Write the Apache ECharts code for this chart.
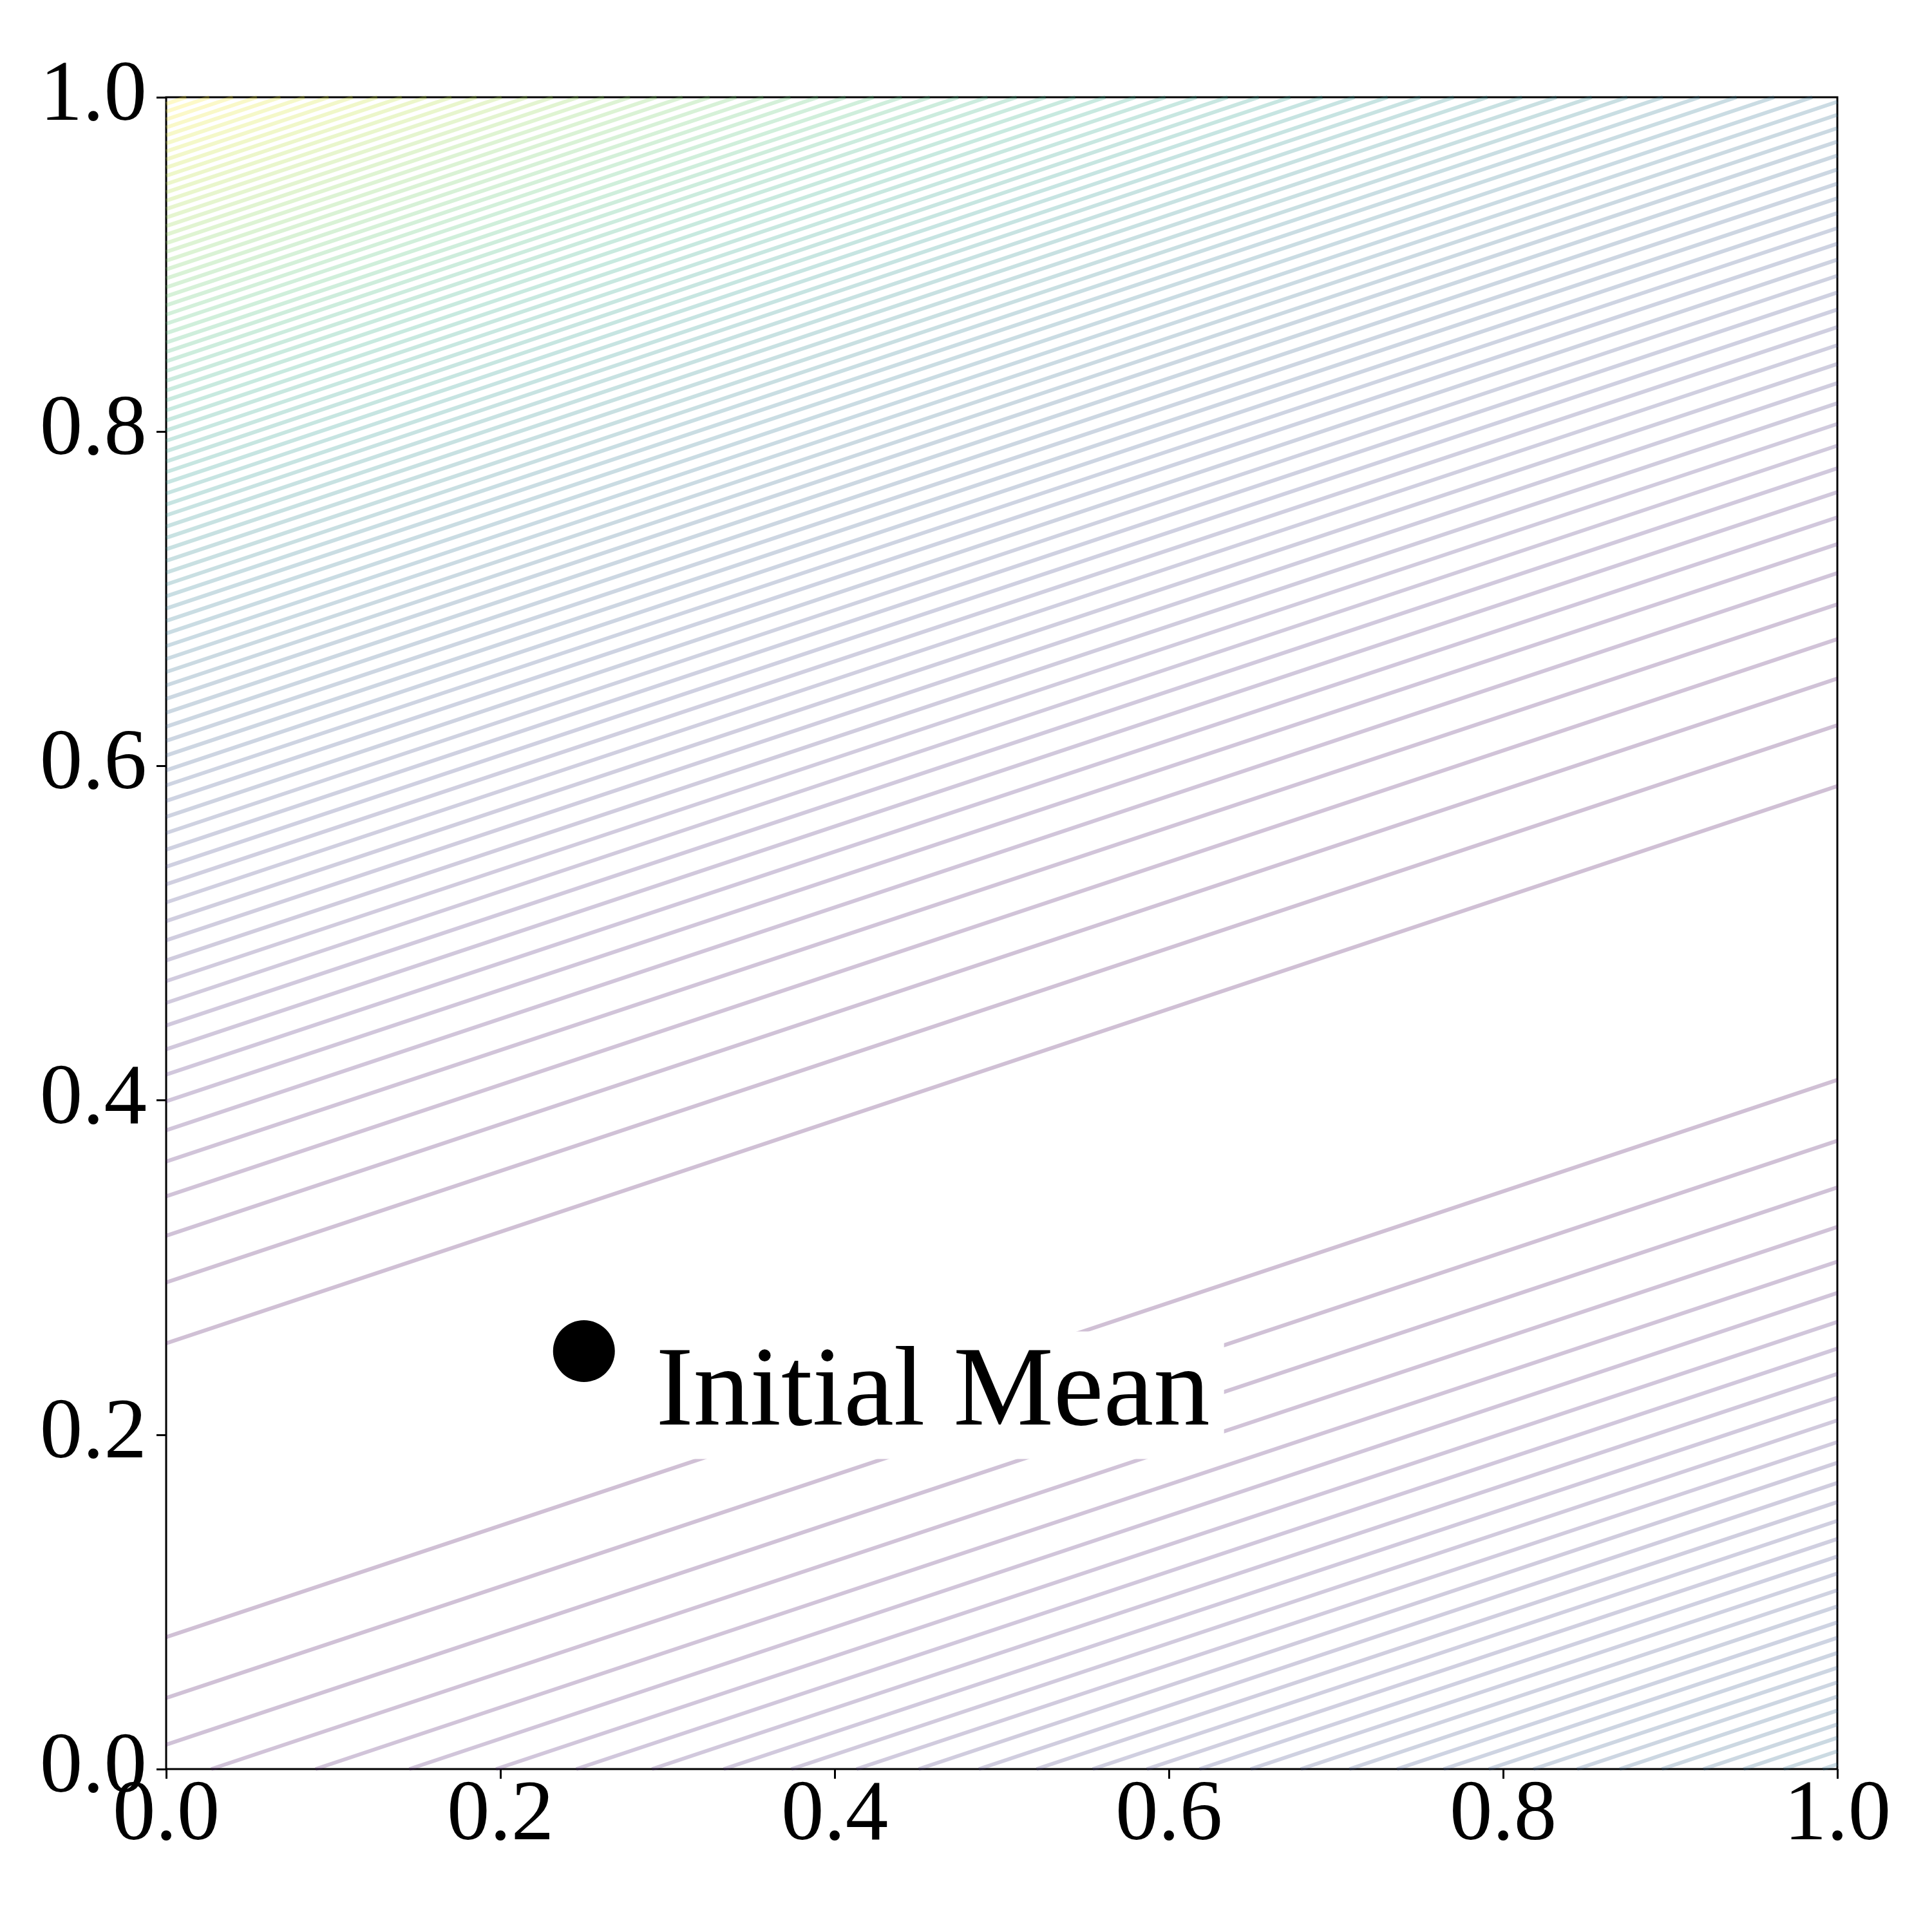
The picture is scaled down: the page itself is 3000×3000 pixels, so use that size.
<!DOCTYPE html>
<html>
<head>
<meta charset="utf-8">
<title>Initial Mean contour</title>
<script src="https://cdn.jsdelivr.net/npm/echarts@6/dist/echarts.min.js"></script>
<style>
  html, body { margin: 0; padding: 0; background: #fff; }
  #chart { width: 3000px; height: 3000px; }
</style>
</head>
<body>
<div id="chart"></div>
<script>
// contour lines above the valley, y where each line meets x = 0 (level 1, 2, 3 ...)
const upperIntercepts = [
  0.2547, 0.2911, 0.3190, 0.3426, 0.3634, 0.3821, 0.3994, 0.4154, 0.4305, 0.4448,
  0.4583, 0.4713, 0.4837, 0.4957, 0.5072, 0.5184, 0.5292, 0.5397, 0.5499, 0.5599,
  0.5696, 0.5791, 0.5884, 0.5974, 0.6063, 0.6150, 0.6235, 0.6319, 0.6402, 0.6482,
  0.6562, 0.6640, 0.6717, 0.6793, 0.6868, 0.6942, 0.7015, 0.7086, 0.7157, 0.7227,
  0.7296, 0.7365, 0.7432, 0.7499, 0.7564, 0.7630, 0.7694, 0.7758, 0.7821, 0.7883,
  0.7945, 0.8007, 0.8067, 0.8127, 0.8187, 0.8246, 0.8304, 0.8362, 0.8420, 0.8477,
  0.8533, 0.8589, 0.8645, 0.8700, 0.8755, 0.8809, 0.8863, 0.8916, 0.8970, 0.9022,
  0.9075, 0.9127, 0.9178, 0.9229, 0.9280, 0.9331, 0.9381, 0.9431, 0.9481, 0.9530,
  0.9579, 0.9628, 0.9676, 0.9724, 0.9772, 0.9819, 0.9867, 0.9914, 0.9960
]
// contour lines below the valley (same levels, other side)
const lowerIntercepts = [
  0.0789, 0.0425, 0.0146, -0.0090, -0.0298, -0.0485, -0.0658, -0.0818, -0.0969, -0.1112,
  -0.1247, -0.1377, -0.1501, -0.1621, -0.1736, -0.1848, -0.1956, -0.2061, -0.2163, -0.2263,
  -0.2360, -0.2455, -0.2548, -0.2638, -0.2727, -0.2814, -0.2899, -0.2983, -0.3066, -0.3146,
  -0.3226, -0.3304
]
const contourSlope = 0.3333
const topLevel = 89

const initialMean = [0.25, 0.25]
const meanLabel = 'Initial Mean'

const axisTicks = [0, 0.2, 0.4, 0.6, 0.8, 1.0]

// viridis
const viridis = ['#440154', '#482475', '#414487', '#355f8d', '#2a788e', '#21918c',
  '#22a884', '#44bf70', '#7ad151', '#bddf26', '#fde725']

function hexRgb(h) {
  return [parseInt(h.substr(1, 2), 16), parseInt(h.substr(3, 2), 16), parseInt(h.substr(5, 2), 16)]
}
function cmap(t) {
  t = Math.max(0, Math.min(1, t))
  const p = t * (viridis.length - 1)
  const i = Math.min(Math.floor(p), viridis.length - 2)
  const f = p - i
  const a = hexRgb(viridis[i])
  const b = hexRgb(viridis[i + 1])
  const c = a.map((v, k) => Math.round(v + (b[k] - v) * f))
  return 'rgb(' + c.join(',') + ')'
}

// clip y = c + s*x to the unit square
function segment(c) {
  const s = contourSlope
  const x0 = Math.max(0, -c / s)
  const x1 = Math.min(1, (1 - c) / s)
  return [[x0, c + s * x0], [x1, c + s * x1]]
}

const contourData = []
upperIntercepts.forEach((c, i) => {
  contourData.push({ coords: segment(c), lineStyle: { color: cmap((i + 1) / topLevel) } })
})
lowerIntercepts.forEach((c, i) => {
  contourData.push({ coords: segment(c), lineStyle: { color: cmap((i + 1) / topLevel) } })
})

const font = 'Liberation Serif, Times New Roman, serif'

const chart = echarts.init(document.getElementById('chart'))
chart.setOption({
  animation: false,
  backgroundColor: '#fff',
  grid: {
    left: 258,
    right: 147,
    top: 151,
    bottom: 253,
    show: true,
    borderColor: '#000',
    borderWidth: 3,
    backgroundColor: 'transparent'
  },
  xAxis: {
    type: 'value',
    min: axisTicks[0],
    max: axisTicks[axisTicks.length - 1],
    interval: 0.2,
    splitLine: { show: false },
    axisLine: { show: false },
    axisTick: { show: true, inside: false, length: 15, lineStyle: { color: '#000', width: 3 } },
    axisLabel: {
      show: true,
      margin: 8,
      color: '#000',
      fontFamily: font,
      fontSize: 133,
      showMinLabel: true,
      showMaxLabel: true,
      formatter: v => v.toFixed(1)
    }
  },
  yAxis: {
    type: 'value',
    min: axisTicks[0],
    max: axisTicks[axisTicks.length - 1],
    interval: 0.2,
    splitLine: { show: false },
    axisLine: { show: false },
    axisTick: { show: true, inside: false, length: 15, lineStyle: { color: '#000', width: 3 } },
    axisLabel: {
      show: true,
      margin: 30,
      color: '#000',
      fontFamily: font,
      fontSize: 133,
      showMinLabel: true,
      showMaxLabel: true,
      formatter: v => v.toFixed(1)
    }
  },
  series: [
    {
      type: 'lines',
      coordinateSystem: 'cartesian2d',
      polyline: false,
      silent: true,
      z: 2,
      lineStyle: { width: 6, opacity: 0.25, cap: 'butt' },
      data: contourData
    },
    {
      // text box with white background covering the contours
      type: 'scatter',
      silent: true,
      z: 5,
      symbolSize: 0,
      itemStyle: { opacity: 1 },
      data: [[0.2846, 0.2236]],
      label: {
        show: true,
        position: 'right',
        distance: 0,
        formatter: meanLabel,
        color: '#000',
        opacity: 1,
        fontFamily: font,
        fontSize: 175,
        lineHeight: 162,
        backgroundColor: '#fff',
        padding: [0, 22, 36, 22]
      }
    },
    {
      type: 'scatter',
      silent: true,
      z: 6,
      symbol: 'circle',
      symbolSize: 96,
      itemStyle: { color: '#000', opacity: 1 },
      data: [initialMean]
    }
  ]
})
</script>
</body>
</html>
